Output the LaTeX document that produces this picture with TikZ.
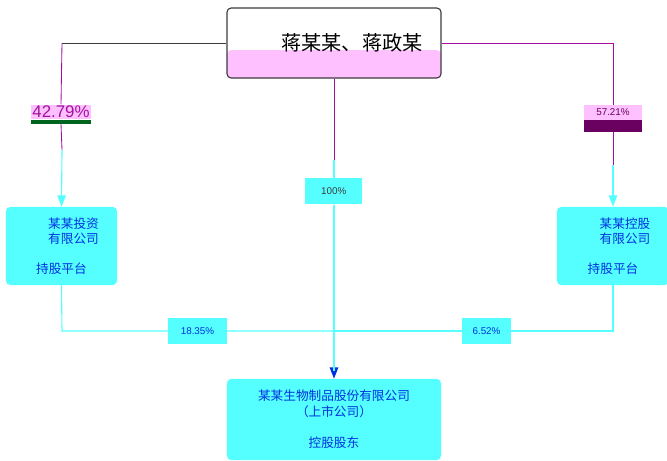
\documentclass[tikz,border=0pt]{standalone}
\usepackage{fontspec}
\setmainfont{Liberation Sans}
\newfontfamily\cjk{Noto Sans CJK SC}
\usetikzlibrary{arrows.meta}
\definecolor{cyanfill}{RGB}{85,255,255}
\definecolor{pinkfill}{RGB}{255,192,255}
\definecolor{linepurple}{RGB}{160,16,160}
\definecolor{textblue}{RGB}{0,48,224}
\definecolor{darkgreen}{RGB}{0,100,30}
\definecolor{barpurple}{RGB}{106,0,96}
\definecolor{framegray}{RGB}{60,60,60}
\newcommand*{\boxtextstyle}{\cjk\small\color{textblue}}
\newcommand*{\pcttextstyle}{\large\color{linepurple}}
\tikzset{
  company/.style = {fill=cyanfill, rounded corners=3pt, inner sep=2pt,
                    font=\boxtextstyle, align=center},
  share/.style   = {fill=cyanfill, inner sep=1pt, font=\scriptsize\color{textblue}},
  tie/.style     = {linepurple, semithick},
  feed/.style    = {cyanfill, thick},
  tip/.style     = {-{Triangle[width=6pt,length=8pt]}}
}

\begin{document}
\begin{tikzpicture}[x=0.025cm, y=-0.025cm]
    \useasboundingbox (0,0) rectangle (667,461);

    % holder on top
    \node[
        minimum width = 5.35cm,
        minimum height = 1.75cm,
        rounded corners = 3pt,
        draw = framegray, thick, fill = white,
        path picture = {\fill[pinkfill] ([yshift=-0.18cm]path picture bounding box.west)
                        rectangle (path picture bounding box.south east);},
        font = \cjk\Large] (holder) at (334,43) {\hspace{0.9cm}蒋某某、蒋政某};

    % shares of the holder
    \node[fill=pinkfill, inner sep=1pt, font=\pcttextstyle] (pctL) at (61,112) {42.79\%};
    \fill[darkgreen] (pctL.south west) rectangle ([yshift=-0.1cm]pctL.south east);
    \node[fill=pinkfill, minimum width=1.45cm, minimum height=0.375cm,
          inner sep=0pt, font=\scriptsize\color{barpurple}] (pctR) at (613,112.5) {57.21\%};
    \fill[barpurple] (pctR.south west) rectangle ([yshift=-0.3cm]pctR.south east);

    \coordinate (cornerL) at (62,43);
    \coordinate (cornerR) at (613,43);
    \coordinate (stopL) at (62,150);
    \coordinate (stopR) at (613,165);
    \coordinate (stopM) at (334,160);

    \draw[framegray, semithick] (holder.west) -- (cornerL);
    \draw[tie] (cornerL) -- (pctL.north);
    \draw[tie] ([yshift=-0.1cm]pctL.south) -- (stopL);
    \draw[tie] (holder.east) -- (cornerR) -- (pctR.north);
    \draw[tie] ([yshift=-0.3cm]pctR.south) -- (stopR);
    \draw[tie] (holder.south) -- (stopM);

    % companies
    \node[company, minimum width=2.775cm, minimum height=1.95cm] (compL) at (61.5,246)
        {\hspace{0.6cm}某某投资\\\hspace{0.6cm}有限公司\\[0.35cm]持股平台};
    \node[company, minimum width=2.8cm, minimum height=1.95cm] (compR) at (613,246)
        {\hspace{0.6cm}某某控股\\\hspace{0.6cm}有限公司\\[0.35cm]持股平台};
    \node[share, minimum width=1.425cm, minimum height=0.65cm,
          text=framegray, anchor=north west, align=left] (midlbl) at (305,178) {100\%};
    \node[company, minimum width=5.35cm, minimum height=2.025cm] (target) at (334,419.5)
        {某某生物制品股份有限公司\\（上市公司）\\[0.4cm]控股股东};

    \draw[feed, tip] (stopL) -- (compL.north);
    \draw[feed, tip] (stopR) -- (compR.north);
    \draw[feed] (stopM) -- (midlbl.north -| stopM);
    \draw[feed, -{Triangle[width=6pt,length=8pt,fill=textblue]}, textblue]
        (midlbl.south -| stopM) -- (target.north);
    \draw[feed] (midlbl.south -| stopM) -- ([yshift=0.2cm]target.north);

    % lower shares
    \coordinate (footL) at (62,331);
    \coordinate (footR) at (613,331);
    \coordinate (meet) at (334,331);
    \draw[feed] (compL.south) -- (footL) -- (meet);
    \draw[feed] (compR.south) -- (footR) -- (meet);
    \node[share, minimum width=1.475cm, minimum height=0.65cm] (lblL) at (197.5,331) {18.35\%};
    \node[share, minimum width=1.225cm, minimum height=0.65cm] (lblR) at (486.5,331) {6.52\%};

\end{tikzpicture}
\end{document}
